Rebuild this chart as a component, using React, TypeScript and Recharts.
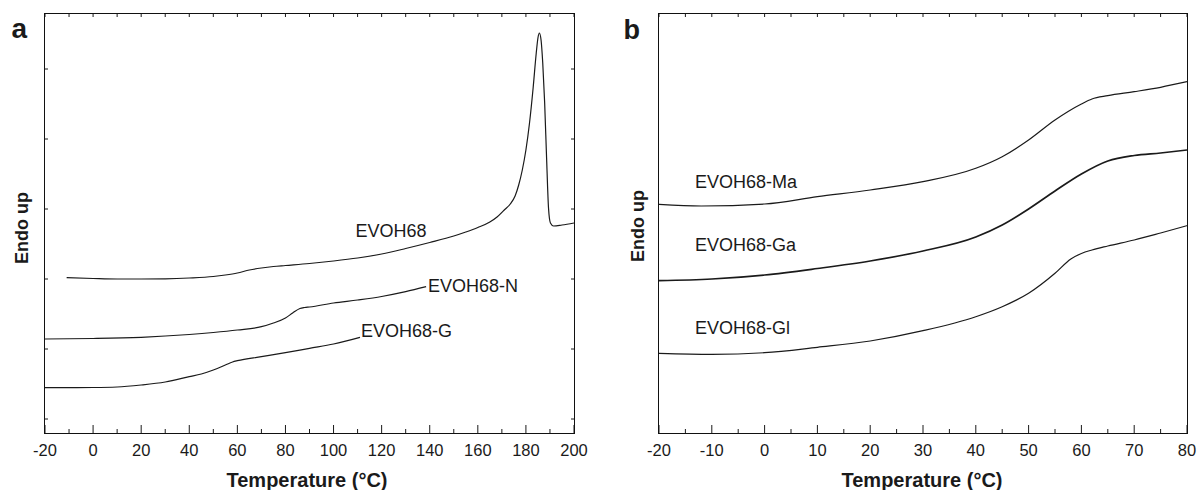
import { LineChart, Line, XAxis, YAxis } from "recharts";

// panel a: temperature (°C) vs heat flow (a.u., endo up)
const evoh68Temp = [-11, 0, 10, 20, 30, 40, 50, 55, 60, 65, 70, 75, 80, 90, 100, 110, 120, 130, 140, 150, 155, 160, 165, 168, 171, 173.5, 175.5, 177, 178.5, 180, 181.5, 183, 184.3, 185, 185.6, 186.3, 187, 187.8, 188.6, 189.4, 190.2, 191.5, 195, 200];
const evoh68Flow = [155.3, 154.5, 154, 154, 154.2, 155, 156.5, 158, 160, 163, 165, 166.5, 167.5, 169.5, 172, 175, 179, 184.5, 190.5, 197, 201, 205.5, 211, 216, 223, 229, 237, 248, 263, 283, 310, 345, 380, 395, 400, 393, 370, 330, 275, 225, 210, 207, 208, 210];

const evoh68NTemp = [-20, 0, 20, 40, 50, 60, 70, 75, 80, 83, 86, 88, 90, 100, 110, 120, 130, 138.5];
const evoh68NFlow = [94, 94.5, 95.7, 98.5, 100.5, 103, 106.3, 110, 115, 120, 124.5, 125.5, 126, 130, 133, 136.5, 141.3, 146.3];

const evoh68GTemp = [-20, 0, 10, 20, 30, 40, 45, 50, 55, 58, 60, 70, 80, 90, 100, 111];
const evoh68GFlow = [45.3, 45.5, 46, 48, 51, 56.3, 59, 63, 68, 71, 72.3, 76.3, 80.3, 84.7, 89, 95.7];

// panel b
const maTemp = [-20, -12, 0, 10, 20, 30, 40, 45, 50, 55, 60, 62, 65, 70, 75, 80];
const maFlow = [228.7, 227, 229, 236.3, 243, 251.3, 264.7, 276.3, 293, 313, 329, 334, 337.3, 341.3, 345.7, 351.3];

const gaTemp = [-20, -10, 0, 10, 20, 30, 40, 45, 50, 55, 60, 65, 70, 75, 80];
const gaFlow = [152.3, 154, 158, 164.5, 172, 182, 196, 208, 224, 242, 259, 272, 277.5, 280, 283];

const glTemp = [-20, -10, 0, 10, 20, 30, 40, 45, 50, 55, 58, 60, 62, 65, 70, 75, 80];
const glFlow = [79.7, 78.7, 80.3, 85.7, 92, 102.3, 116.3, 126.3, 139.7, 159.7, 174, 179.5, 183, 187, 193, 200, 207.3];

const aTicks = [-20, -10, 0, 10, 20, 30, 40, 50, 60, 70, 80, 90, 100, 110, 120, 130, 140, 150, 160, 170, 180, 190, 200];
const bTicks = [-20, -15, -10, -5, 0, 5, 10, 15, 20, 25, 30, 35, 40, 45, 50, 55, 60, 65, 70, 75, 80];
const aFlowTicks = [14, 84, 154, 224, 294, 364];

const zip = (t: number[], q: number[]) => t.map((x, i) => ({ t: x, q: q[i] }));

const FONT = "Arial, 'Liberation Sans', sans-serif";
const INK = "#1a1a1a";
const PLOT_TOP = 14;
const PLOT_H = 419;

// bottom tick (inward) + label, and the small mirrored tick on the top edge
const BottomTick = (props: any) => {
  const { x, y, payload, every } = props;
  const major = payload.value % every === 0;
  return (
    <g>
      <line x1={x} x2={x} y1={y} y2={y - (major ? 8 : 4)} stroke={INK} />
      <line x1={x} x2={x} y1={y - PLOT_H} y2={y - PLOT_H + 3} stroke={INK} />
      {major && (
        <text x={x} y={y + 22.5} textAnchor="middle" fontSize={16.5} fontFamily={FONT} fill={INK}>
          {payload.value}
        </text>
      )}
    </g>
  );
};

// left tick (inward) and its mirror on the right edge
const SideTick = (props: any) => {
  const { x, y, plotW } = props;
  return (
    <g>
      <line x1={x} x2={x + 3} y1={y} y2={y} stroke={INK} />
      <line x1={x + plotW} x2={x + plotW - 3} y1={y} y2={y} stroke={INK} />
    </g>
  );
};

type PanelProps = {
  series: { t: number; q: number }[][];
  widths: number[];
  domain: [number, number];
  ticks: number[];
  every: number;
  sideTicks: number[];
  width: number;
  left: number;
  right: number;
};

const Panel = (props: PanelProps) => {
  const plotW = props.width - props.left - props.right;
  return (
    <LineChart
      width={props.width}
      height={490}
      margin={{ top: PLOT_TOP, right: props.right, bottom: 0, left: 0 }}
    >
      <XAxis
        dataKey="t"
        type="number"
        domain={props.domain}
        ticks={props.ticks}
        interval={0}
        height={490 - PLOT_TOP - PLOT_H}
        tickSize={0}
        tickMargin={0}
        tickLine={false}
        axisLine={false}
        tick={(p: any) => <BottomTick {...p} every={props.every} />}
        allowDataOverflow
      />
      <YAxis
        type="number"
        domain={[0, PLOT_H]}
        ticks={props.sideTicks}
        interval={0}
        width={props.left}
        tickSize={0}
        tickMargin={0}
        tickLine={false}
        axisLine={false}
        tick={(p: any) => <SideTick {...p} plotW={plotW} />}
        allowDataOverflow
      />
      {props.series.map((d, i) => (
        <Line
          key={i}
          data={d}
          dataKey="q"
          type="monotone"
          stroke={INK}
          strokeWidth={props.widths[i]}
          dot={false}
          activeDot={false}
          isAnimationActive={false}
        />
      ))}
    </LineChart>
  );
};

const label = { fontFamily: FONT, fill: INK };

export default function App() {
  return (
    <div style={{ position: "absolute", left: 0, top: 0, width: 1199, height: 490, background: "#fff" }}>
      <div style={{ position: "absolute", left: 0, top: 0 }}>
        <Panel
          series={[zip(evoh68Temp, evoh68Flow), zip(evoh68NTemp, evoh68NFlow), zip(evoh68GTemp, evoh68GFlow)]}
          widths={[1.2, 1.2, 1.2]}
          domain={[-20, 200]}
          ticks={aTicks}
          every={20}
          sideTicks={aFlowTicks}
          width={600}
          left={45}
          right={26}
        />
      </div>
      <div style={{ position: "absolute", left: 600, top: 0 }}>
        <Panel
          series={[zip(maTemp, maFlow), zip(gaTemp, gaFlow), zip(glTemp, glFlow)]}
          widths={[1.2, 1.7, 1.2]}
          domain={[-20, 80]}
          ticks={bTicks}
          every={10}
          sideTicks={[]}
          width={599}
          left={59}
          right={12}
        />
      </div>
      <svg width={1199} height={490} style={{ position: "absolute", left: 0, top: 0, pointerEvents: "none" }}>
        {/* plot frames, snapped to whole pixels */}
        <rect x={44.5} y={PLOT_TOP - 0.5} width={530} height={PLOT_H + 1} fill="none" stroke="#111" strokeWidth={1} />
        <rect x={658.5} y={PLOT_TOP - 0.5} width={529} height={PLOT_H + 1} fill="none" stroke="#111" strokeWidth={1} />

        <text x={11.5} y={38} fontSize={28} fontWeight="bold" {...label}>a</text>
        <text x={623.5} y={39} fontSize={27} fontWeight="bold" {...label}>b</text>

        <text transform="translate(28,228) rotate(-90)" textAnchor="middle" fontSize={18} fontWeight="bold" {...label}>Endo up</text>
        <text transform="translate(644,226) rotate(-90)" textAnchor="middle" fontSize={18} fontWeight="bold" {...label}>Endo up</text>

        <text x={307} y={487} textAnchor="middle" fontSize={20} fontWeight="bold" {...label}>Temperature (°C)</text>
        <text x={922} y={487} textAnchor="middle" fontSize={20} fontWeight="bold" {...label}>Temperature (°C)</text>

        <text x={355.5} y={236.5} fontSize={18} {...label}>EVOH68</text>
        <text x={428} y={291.5} fontSize={18} {...label}>EVOH68-N</text>
        <text x={361} y={337} fontSize={18} {...label}>EVOH68-G</text>

        <text x={695} y={188} fontSize={18} {...label}>EVOH68-Ma</text>
        <text x={695} y={250.5} fontSize={18} {...label}>EVOH68-Ga</text>
        <text x={695} y={334} fontSize={18} {...label}>EVOH68-Gl</text>
      </svg>
    </div>
  );
}
